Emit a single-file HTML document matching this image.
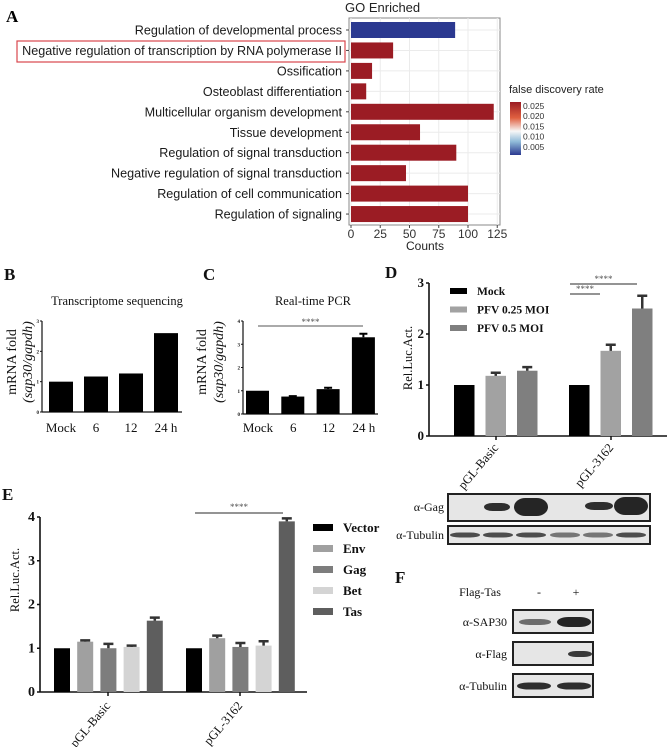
<!DOCTYPE html>
<html><head><meta charset="utf-8"><style>
html,body{margin:0;padding:0;background:#fff;}
svg{display:block;}
.sans{font-family:"Liberation Sans",sans-serif;}
.serif{font-family:"Liberation Serif",serif;}
</style></head><body>
<svg id="fig" width="669" height="747" viewBox="0 0 669 747" xmlns="http://www.w3.org/2000/svg"></svg>
<script>
// ---------- Panel A data ----------
const goTerms = ["Regulation of developmental process","Negative regulation of transcription by RNA polymerase II","Ossification","Osteoblast differentiation","Multicellular organism development","Tissue development","Regulation of signal transduction","Negative regulation of signal transduction","Regulation of cell communication","Regulation of signaling"];
const goCounts = [89,36,18,13,122,59,90,47,100,100];
const goFdr = [0.003,0.025,0.025,0.025,0.025,0.025,0.025,0.025,0.025,0.025];
const goTicks = [0,25,50,75,100,125];
const fdrTicks = ["0.025","0.020","0.015","0.010","0.005"];
// ---------- Panel B ----------
const bCats = ["Mock","6","12","24 h"];
const bVals = [1,1.17,1.27,2.6];
const bTicks = [0,1,2,3];
// ---------- Panel C ----------
const cCats = ["Mock","6","12","24 h"];
const cVals = [1,0.75,1.07,3.3];
const cErr = [0,0.02,0.06,0.15];
const cTicks = [0,1,2,3,4];
// ---------- Panel D ----------
const dGroups = ["pGL-Basic","pGL-3162"];
const dSeries = ["Mock","PFV 0.25 MOI","PFV 0.5 MOI"];
const dVals = [[1,1.18,1.28],[1,1.67,2.5]];
const dErr = [[0,0.06,0.07],[0,0.12,0.25]];
const dTicks = [0,1,2,3];
// ---------- Panel E ----------
const eGroups = ["pGL-Basic","pGL-3162"];
const eSeries = ["Vector","Env","Gag","Bet","Tas"];
const eVals = [[1,1.15,1.0,1.03,1.63],[1,1.23,1.03,1.06,3.9]];
const eErr = [[0,0.03,0.1,0.03,0.07],[0,0.06,0.09,0.1,0.07]];
const eTicks = [0,1,2,3,4];

const NS="http://www.w3.org/2000/svg";
const svg=document.getElementById('fig');
function mk(tag, attrs, parent, txt){
  const e=document.createElementNS(NS,tag);
  for(const k in attrs) e.setAttribute(k,attrs[k]);
  if(txt!==undefined) e.textContent=txt;
  (parent||svg).appendChild(e);
  return e;
}
function grp(name){
  const g=mk('g',{});
  
  
  return g;
}

// ================= Panel A =================
(function(){
  const g=grp('panel-a');
  let t=mk('text',{x:6,y:22,'font-size':17,'font-weight':'bold',class:'serif'},g,'A');
  
  
  t=mk('text',{x:345,y:12,'font-size':13,class:'sans',fill:'#222'},g,'GO Enriched');
  
  
  const x0=351, pxPer=1.17, top=18, bot=225, left=349, right=500;
  const xs=v=>x0+v*pxPer;
  const rowY=i=>30+i*20.45;
  let r=mk('rect',{x:left,y:top,width:right-left,height:bot-top,fill:'#fff',stroke:'#888','stroke-width':1},g);
  
  
  goTicks.forEach(v=>{
    let l=mk('line',{x1:xs(v),x2:xs(v),y1:top,y2:bot,stroke:'#ebebeb','stroke-width':1},g);
    
    
    let tk=mk('text',{x:xs(v),y:238,'font-size':12,'text-anchor':'middle',class:'sans',fill:'#333'},g,String(v));
    
    
    let tm=mk('line',{x1:xs(v),x2:xs(v),y1:bot,y2:bot+3,stroke:'#444'},g);
    
    
  });
  goTerms.forEach((name,i)=>{
    const y=rowY(i);
    let gl=mk('line',{x1:left,x2:right,y1:y,y2:y,stroke:'#ebebeb'},g);
    
    
    const col=goFdr[i]<0.01?'#2b3990':'#9b1c24';
    let b=mk('rect',{x:x0,y:y-8,width:goCounts[i]*pxPer,height:16,fill:col},g);
    
    
    let lb=mk('text',{x:342,y:y+4.5,'font-size':12.6,'text-anchor':'end',class:'sans',fill:'#1a1a1a'},g,name);
    
    
    let tm=mk('line',{x1:left-3,x2:left,y1:y,y2:y,stroke:'#444'},g);
    
    
  });
  let hb=mk('rect',{x:17,y:41,width:328,height:21,fill:'none',stroke:'#d9474e','stroke-width':1.2},g);
  
  
  t=mk('text',{x:425,y:250,'font-size':12,'text-anchor':'middle',class:'sans',fill:'#222'},g,'Counts');
  
  
  const defs=mk('defs',{},g);
  const lg=mk('linearGradient',{id:'fdrg',x1:0,y1:0,x2:0,y2:1},defs);
  [['0','#9b1c24'],['0.3','#e06040'],['0.55','#f7f7f7'],['0.75','#8fbad8'],['1','#2b3990']].forEach(s=>mk('stop',{offset:s[0],'stop-color':s[1]},lg));
  t=mk('text',{x:509,y:93,'font-size':11,class:'sans',fill:'#222'},g,'false discovery rate');
  
  
  let cb=mk('rect',{x:510,y:102,width:11,height:53,fill:'url(#fdrg)'},g);
  
  
  fdrTicks.forEach((lab,i)=>{
    let tt=mk('text',{x:523,y:109+i*10.2,'font-size':8.5,class:'sans',fill:'#333'},g,lab);
    
    
  });
})();

function axisText(g,x,y,s,txt,opts){
  const a=Object.assign({x:x,y:y,'font-size':s,class:'serif',fill:'#111'},opts||{});
  return mk('text',a,g,txt);
}

// ================= Panel B & C =================
function simpleBar(name,letter,lx,title,titleX,axisX,axisEnd,y0,yTop,maxV,cats,vals,errs,ticks,barX,barW,catX,sig){
  const g=grp(name);
  let t=axisText(g,lx,280,17,letter,{'font-weight':'bold'});
  
  
  t=axisText(g,titleX,305,12.5,title,{'text-anchor':'middle'});
  
  
  const ys=v=>y0-(v/maxV)*(y0-yTop);
  let ax=mk('line',{x1:axisX,x2:axisX,y1:yTop,y2:y0,stroke:'#111','stroke-width':1.2},g);
  
  
  ax=mk('line',{x1:axisX,x2:axisEnd,y1:y0,y2:y0,stroke:'#111','stroke-width':1.2},g);
  
  
  ticks.forEach(v=>{
    let tm=mk('line',{x1:axisX-2,x2:axisX,y1:ys(v),y2:ys(v),stroke:'#111'},g);
    
    
    let tl=axisText(g,axisX-3,ys(v)+2,5,String(v),{'text-anchor':'end','font-weight':'bold'});
    
    
  });
  cats.forEach((c,i)=>{
    const x=barX(i);
    let b=mk('rect',{x:x,y:ys(vals[i]),width:barW,height:y0-ys(vals[i]),fill:'#000'},g);
    
    
    if(errs&&errs[i]>0){
      const cx=x+barW/2, yt=ys(vals[i]+errs[i]);
      let e=mk('path',{d:`M${cx},${ys(vals[i])}V${yt}M${cx-4},${yt}H${cx+4}`,stroke:'#000','stroke-width':2,fill:'none'},g);
      
      
    }
    let cl=axisText(g,catX(i),432,13,c,{'text-anchor':'middle'});
    
    
  });
  if(sig){
    let sl=mk('line',{x1:sig[0],x2:sig[1],y1:sig[2],y2:sig[2],stroke:'#555','stroke-width':1},g);
    
    
    let st=axisText(g,(sig[0]+sig[1])/2,sig[2]-1,9,'****',{'text-anchor':'middle',fill:'#555'});
    
    
  }
  return g;
}
const gB=simpleBar('panel-b','B',4,'Transcriptome sequencing',117,42,182,412,321,3,bCats,bVals,null,bTicks,i=>49+i*35,24,i=>61+i*35,null);
const gC=simpleBar('panel-c','C',203,'Real-time PCR',313,243,378,414,321,4,cCats,cVals,cErr,cTicks,i=>246+i*35.3,23,i=>258+i*35.3,[258,363,326]);
[[gB,12,28],[gC,202,219]].forEach(p=>{
  let a=axisText(p[0],p[1],362,14,'mRNA fold',{'text-anchor':'middle',transform:`rotate(-90 ${p[1]} 362)`,x:p[1],y:362+4});
  
  
  let b=axisText(p[0],p[2],362,14,'',{'text-anchor':'middle',transform:`rotate(-90 ${p[2]} 362)`,x:p[2],y:362+4,'font-style':'italic'});
  b.textContent='(sap30/gapdh)';
  
  
});

// ================= Grouped bars (D, E) =================
function grouped(name,letter,lx,ly,axisX,axisEnd,y0,yTop,maxV,ticks,groups,series,vals,errs,colors,barX,barW,groupCX,labelY,ytitleX,ytitleY,tickFS){
  const g=grp(name);
  let t=axisText(g,lx,ly,17,letter,{'font-weight':'bold'});
  
  
  const ys=v=>y0-(v/maxV)*(y0-yTop);
  let ax=mk('line',{x1:axisX,x2:axisX,y1:yTop,y2:y0,stroke:'#111','stroke-width':1.6},g);
  
  
  ax=mk('line',{x1:axisX,x2:axisEnd,y1:y0,y2:y0,stroke:'#111','stroke-width':1.6},g);
  
  
  ticks.forEach(v=>{
    let tm=mk('line',{x1:axisX-3,x2:axisX,y1:ys(v),y2:ys(v),stroke:'#111','stroke-width':1.5},g);
    
    
    let tl=axisText(g,axisX-5,ys(v)+4,tickFS,String(v),{'text-anchor':'end','font-weight':'bold'});
    
    
  });
  groups.forEach((gn,gi)=>{
    series.forEach((s,si)=>{
      const x=barX(gi,si), v=vals[gi][si];
      let b=mk('rect',{x:x,y:ys(v),width:barW,height:y0-ys(v),fill:colors[si]},g);
      
      
      if(errs[gi][si]>0){
        const cx=x+barW/2, yt=ys(v+errs[gi][si]);
        let e=mk('path',{d:`M${cx},${ys(v)}V${yt}M${cx-5},${yt}H${cx+5}`,stroke:'#333','stroke-width':2.5,fill:'none'},g);
        
        
      }
    });
    const cx=groupCX(gi);
    let tm=mk('line',{x1:cx,x2:cx,y1:y0,y2:y0+4,stroke:'#111','stroke-width':1.5},g);
    
    
    let cl=axisText(g,cx+3,labelY,12.5,gn,{'text-anchor':'end',transform:`rotate(-50 ${cx+3} ${labelY})`});
    
    
  });
  let yt=axisText(g,ytitleX,ytitleY,12.5,'Rel.Luc.Act.',{'text-anchor':'middle',transform:`rotate(-90 ${ytitleX} ${ytitleY})`});
  
  
  return {g:g,ys:ys};
}
const dColors=['#000','#a2a2a2','#7f7f7f'];
const D=grouped('panel-d','D',385,278,429,667,436,283,3,dTicks,dGroups,dSeries,dVals,dErr,dColors,(gi,si)=>454+gi*115+si*31.5,20.5,gi=>496+gi*115,448,412,358,13);
dSeries.forEach((s,i)=>{
  let sw=mk('rect',{x:450,y:288+i*18.5,width:17,height:6,fill:dColors[i]},D.g);
  
  
  let lt=axisText(D.g,477,295+i*18.5,11.5,s,{'font-weight':'bold'});
  
  
});
[[570,637,284],[570,600,294]].forEach(s=>{
  let l=mk('line',{x1:s[0],x2:s[1],y1:s[2],y2:s[2],stroke:'#555','stroke-width':1.2},D.g);
  
  
  let st=axisText(D.g,(s[0]+s[1])/2,s[2]-2,9,'****',{'text-anchor':'middle',fill:'#555'});
  
  
});

const eColors=['#000','#a0a0a0','#7d7d7d','#d4d4d4','#5e5e5e'];
const E=grouped('panel-e','E',2,500,40,307,692,517,4,eTicks,eGroups,eSeries,eVals,eErr,eColors,(gi,si)=>54+gi*132+si*23.2,16,gi=>108+gi*132,706,19,580,14);
eSeries.forEach((s,i)=>{
  let sw=mk('rect',{x:313,y:524+i*21,width:20,height:7,fill:eColors[i]},E.g);
  
  
  let lt=axisText(E.g,343,532+i*21,13,s,{'font-weight':'bold'});
  
  
});
(function(){
  let l=mk('line',{x1:195,x2:283,y1:513,y2:513,stroke:'#555','stroke-width':1.2},E.g);
  
  
  let st=axisText(E.g,239,510,9,'****',{'text-anchor':'middle',fill:'#555'});
  
  
})();

// ================= Western blots =================
function blotBox(g,x,y,w,h,name){
  let r=mk('rect',{x:x,y:y,width:w,height:h,fill:'#e6e6e6',stroke:'#222','stroke-width':2},g);
  
  
}
function band(g,cx,cy,w,h,op){
  let e=mk('rect',{x:cx-w/2,y:cy-h/2,width:w,height:h,rx:w/3,ry:h/2,fill:'#1a1a1a','fill-opacity':op},g);
  
  
}
(function(){
  const g=grp('panel-d-blot');
  blotBox(g,448,494,202,27,'gag-blot');
  blotBox(g,448,526,202,18,'tubulin-blot');
  let t=axisText(g,444,511,12,'α-Gag',{'text-anchor':'end'});
  
  
  t=axisText(g,444,539,12,'α-Tubulin',{'text-anchor':'end'});
  
  
  band(g,497,507,26,8,0.9); band(g,531,507,34,18,0.95);
  band(g,599,506,28,8,0.9); band(g,631,506,34,18,0.95);
  [465,498,531,565,598,631].forEach((x,i)=>band(g,x,535,30,5,i==3||i==4?0.55:0.75));
})();
(function(){
  const g=grp('panel-f');
  let t=axisText(g,395,583,17,'F',{'font-weight':'bold'});
  
  
  t=axisText(g,480,596,12,'Flag-Tas',{'text-anchor':'middle'});
  
  
  t=axisText(g,539,596,12,'-',{'text-anchor':'middle'});
  
  
  t=axisText(g,576,596,12,'+',{'text-anchor':'middle'});
  
  
  blotBox(g,513,610,80,23,'sap30-blot');
  blotBox(g,513,642,80,23,'flag-blot');
  blotBox(g,513,674,80,23,'f-tubulin-blot');
  [['α-SAP30',626],['α-Flag',658],['α-Tubulin',690]].forEach(l=>{
    let tt=axisText(g,507,l[1],12,l[0],{'text-anchor':'end'});
    
    
  });
  band(g,535,622,32,6,0.6); band(g,574,622,34,10,0.95);
  band(g,580,654,24,6,0.85);
  band(g,534,686,34,7,0.9); band(g,574,686,34,7,0.9);
})();
</script>
</body></html>
